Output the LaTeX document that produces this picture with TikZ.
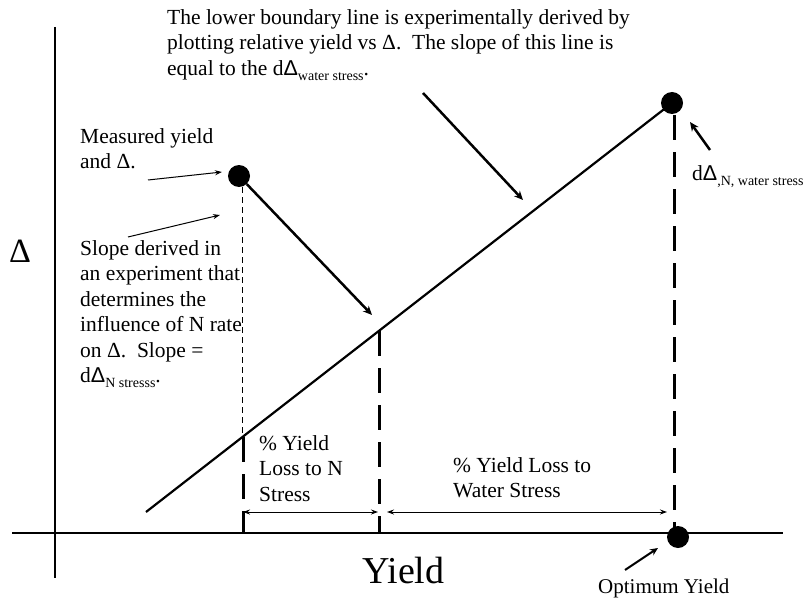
\documentclass[tikz,border=0pt]{standalone}
\usepackage{fontspec}
\setmainfont{Liberation Serif}
\newfontfamily\sansD{Liberation Sans}
\usetikzlibrary{arrows.meta}
\newcommand{\dD}{d{\sansD Δ}}
\newcommand{\lowtxt}[1]{\raisebox{-5pt}{\fontsize{14}{14}\selectfont #1}}
\begin{document}
\begin{tikzpicture}[x=1pt,y=-1pt,
  txt/.style={font=\fontsize{21.5}{25.5}\selectfont, align=left, inner sep=0pt, anchor=north west},
  axisline/.style={line width=2.2pt},
  bound/.style={line width=2.2pt},
  dot/.style={circle, fill=black, minimum size=22pt, inner sep=0pt},
  thindash/.style={line width=1pt, dash pattern=on 6pt off 4pt},
  thickdash/.style={line width=3pt, dash pattern=on 25pt off 12pt},
  thinarrow/.style={line width=1pt, -{Stealth[length=7pt,width=5pt]}},
  dimarrow/.style={line width=1pt, {Stealth[length=7pt,width=5pt]}-{Stealth[length=7pt,width=5pt]}},
  thickarrow/.style={line width=2.5pt, -{Stealth[length=9pt,width=8pt]}}
]
\useasboundingbox (0,0) rectangle (808,599);
% axes
\coordinate (yaxtop) at (55,27);
\coordinate (yaxbot) at (55,578);
\coordinate (xaxl) at (12,533);
\coordinate (xaxr) at (783,533);
\draw[axisline] (yaxtop) -- (yaxbot);
\draw[axisline] (xaxl) -- (xaxr);
% dots
\node[dot] (meas) at (239,176) {};
\node[dot] (top) at (672,103) {};
\node[dot] (opt) at (678,537) {};
% boundary line
\coordinate (bstart) at (146,512);
\draw[bound] (bstart) -- (top.center);
% vertical dashed lines
\coordinate (ni) at (243,437);
\coordinate (nb) at (243,533);
\coordinate (wi) at (379,331);
\coordinate (wb) at (379,533);
\coordinate (tb) at (674,533);
\draw[thindash] (242,187) -- (242,437);
\draw[thickdash] (ni) -- (nb);
\draw[thickdash] (wi) -- (wb);
\draw[thickdash] (674,115) -- (tb);
% dimension arrows
\coordinate (d1a) at (243,512);
\coordinate (d1b) at (378,512);
\coordinate (d2a) at (387,512);
\coordinate (d2b) at (667,512);
\draw[dimarrow] (d1a) -- (d1b);
\draw[dimarrow] (d2a) -- (d2b);
% arrows
\coordinate (mtip) at (372,315);
\draw[thickarrow] (meas) -- (mtip);
\coordinate (ttail) at (423,93);
\coordinate (ttip) at (523,200);
\draw[thickarrow] (ttail) -- (ttip);
\coordinate (dtail) at (710,150);
\coordinate (dtip) at (690,122);
\draw[thickarrow] (dtail) -- (dtip);
\coordinate (otail) at (625,570);
\coordinate (otip) at (658,548);
\draw[line width=2pt, -{Stealth[length=8pt,width=7pt]}] (otail) -- (otip);
\coordinate (mtail) at (148,180);
\coordinate (mhead) at (222,172);
\draw[thinarrow] (mtail) -- (mhead);
\coordinate (stail) at (128,237);
\coordinate (shead) at (220,215);
\draw[thinarrow] (stail) -- (shead);
% texts
\node[txt] (toptext) at (167,9.3) {The lower boundary line is experimentally derived by\\plotting relative yield vs Δ.\ \ The slope of this line is\\equal to the \dD\lowtxt{water stress}.};
\node[txt] (meastext) at (80,128.3) {Measured yield\\and Δ.};
\node[txt] (slopetext) at (80,240.3) {Slope derived in\\an experiment that\\determines the\\influence of N rate\\on Δ.\ \ Slope =\\\dD\lowtxt{N stresss}.};
\node[txt] (nloss) at (259,435.3) {\% Yield\\Loss to N\\Stress};
\node[txt] (wloss) at (453,457.3) {\% Yield Loss to\\Water Stress};
\node[font=\fontsize{21.5}{25}\selectfont, inner sep=0pt, anchor=base west] (dlabel) at (692,180) {\dD\lowtxt{,N, water stress}};
\node[font=\fontsize{38}{40}\selectfont, inner sep=0pt, anchor=base west] (yieldlabel) at (362,583) {Yield};
\node[font=\fontsize{21}{22}\selectfont, inner sep=0pt, anchor=base west] (optlabel) at (598,593) {Optimum Yield};
\node[font=\fontsize{34}{36}\selectfont, inner sep=0pt] (deltalabel) at (20,251) {Δ};
\end{tikzpicture}
\end{document}
